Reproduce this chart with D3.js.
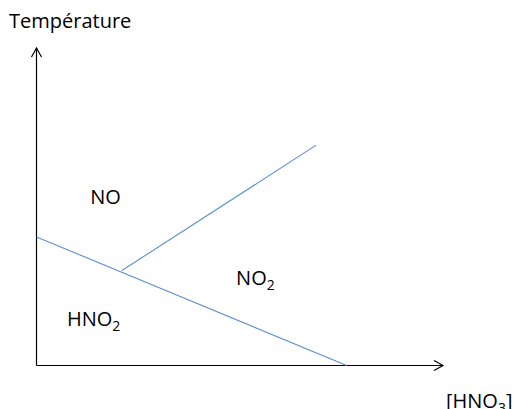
<!DOCTYPE html>
<html>
<head>
<meta charset="utf-8">
<script src="https://cdn.jsdelivr.net/npm/d3@7"></script>
<style>
  html, body { margin: 0; padding: 0; background: #fff; }
  text { font-family: "Open Sans", "Liberation Sans", Arial, sans-serif; fill: #000; }
</style>
</head>
<body>
<div id="chart"></div>
<script>
// axis domains (arbitrary units)
var xDomain = [0, 10];
var yDomain = [0, 10];

// phase boundaries [conc, temp]
var boundaryHNO2 = [[0, 4.05], [7.63, 0]];
var boundaryNO = [[2.10, 2.99], [6.88, 6.94]];

// region labels
var regions = [
    { name: "NO", sub: "", x: 1.32, y: 5.09 },
    { name: "NO", sub: "2", x: 4.91, y: 2.54 },
    { name: "HNO", sub: "2", x: 0.75, y: 1.24 }
];

var axisTitles = { y: "Température", x: "[HNO", xSub: "3", xEnd: "]" };

var W = 515, H = 409;
var svg = d3.select("#chart").append("svg")
    .attr("width", W)
    .attr("height", H);

var x = d3.scaleLinear().domain(xDomain).range([36.5, 443]);
var y = d3.scaleLinear().domain(yDomain).range([365.5, 48]);

var line = d3.line()
    .x(function (d) { return x(d[0]); })
    .y(function (d) { return y(d[1]); });

// axes with open arrow heads
var axisG = svg.append("g")
    .attr("fill", "none")
    .attr("stroke", "#000")
    .attr("stroke-width", 1.2);

axisG.append("path")
    .attr("d", line([[0, 0], [0, yDomain[1]]]));
axisG.append("path")
    .attr("d", line([[0, 0], [xDomain[1], 0]]));

var tipY = [x(0), y(yDomain[1])];
axisG.append("path")
    .attr("d", "M" + (tipY[0] - 5) + "," + (tipY[1] + 9) + "L" + tipY[0] + "," + tipY[1] + "L" + (tipY[0] + 5) + "," + (tipY[1] + 9));
var tipX = [x(xDomain[1]), y(0)];
axisG.append("path")
    .attr("d", "M" + (tipX[0] - 9) + "," + (tipX[1] - 5) + "L" + tipX[0] + "," + tipX[1] + "L" + (tipX[0] - 9) + "," + (tipX[1] + 5));

// boundaries
svg.selectAll("path.boundary")
    .data([boundaryHNO2, boundaryNO])
    .enter().append("path")
    .attr("class", "boundary")
    .attr("d", line)
    .attr("fill", "none")
    .attr("stroke", "#5b8fd0")
    .attr("stroke-width", 1.1);

// region labels
var lab = svg.selectAll("text.region")
    .data(regions)
    .enter().append("text")
    .attr("class", "region")
    .attr("x", function (d) { return x(d.x); })
    .attr("y", function (d) { return y(d.y); })
    .style("font-size", "20px");
lab.append("tspan").text(function (d) { return d.name; });
lab.append("tspan")
    .attr("dy", 5)
    .style("font-size", "14px")
    .text(function (d) { return d.sub; });

// axis titles
svg.append("text")
    .attr("x", 9)
    .attr("y", 28)
    .style("font-size", "20px")
    .text(axisTitles.y);

var xt = svg.append("text")
    .attr("x", 446)
    .attr("y", 408)
    .style("font-size", "20px");
xt.append("tspan").text(axisTitles.x);
xt.append("tspan").attr("dy", 5).style("font-size", "14px").text(axisTitles.xSub);
xt.append("tspan").attr("dy", -5).text(axisTitles.xEnd);
</script>
</body>
</html>
